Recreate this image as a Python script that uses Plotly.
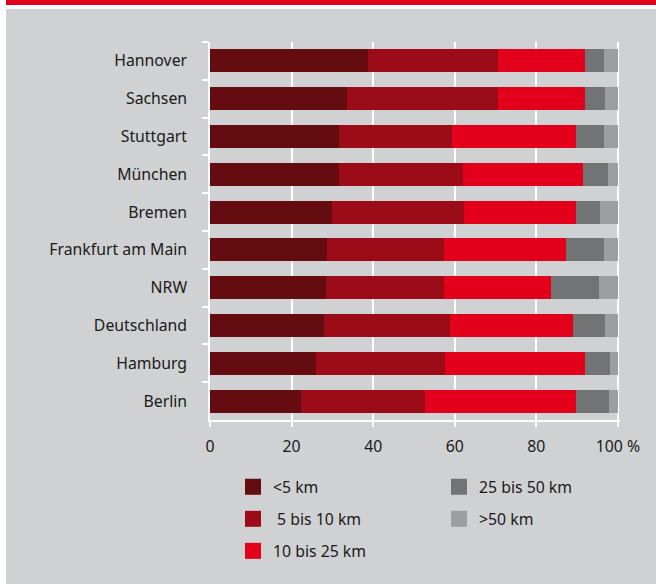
import plotly.graph_objects as go

categories = ["Hannover", "Sachsen", "Stuttgart", "München", "Bremen",
              "Frankfurt am Main", "NRW", "Deutschland", "Hamburg", "Berlin"]
lt5 = [38.8, 33.7, 31.7, 31.5, 30.0, 28.8, 28.5, 28.0, 25.9, 22.2]
b5_10 = [31.7, 36.8, 27.6, 30.4, 32.2, 28.5, 28.8, 30.8, 31.7, 30.5]
b10_25 = [21.5, 21.5, 30.5, 29.6, 27.6, 30.0, 26.4, 30.2, 34.4, 37.1]
b25_50 = [4.6, 4.8, 6.8, 6.1, 5.8, 9.3, 11.7, 7.8, 6.0, 8.0]
gt50 = [3.4, 3.2, 3.4, 2.4, 4.4, 3.4, 4.6, 3.2, 2.0, 2.2]
series_names = ["<5 km", " 5 bis 10 km", "10 bis 25 km", "25 bis 50 km", ">50 km"]
series_values = [lt5, b5_10, b10_25, b25_50, gt50]
colors = ["#640c10", "#9c0c18", "#e2001a", "#727375", "#9d9ea0"]
x_tickvals = [0, 20, 40, 60, 80, 100]
x_ticktext = ["0", "20", "40", "60", "80", "100 %"]

BG = "#d0d1d3"
FONT = "Noto Sans"
FS = 15.8
W, H = 656, 584
L, R, T, B = 210, 36, 42, 164
PW = W - L - R
PH = H - T - B

def px_x(p):
    return (p - L) / PW

def px_y(q):
    return (H - B - q) / PH

fig = go.Figure()
for name, vals, col in zip(series_names, series_values, colors):
    fig.add_trace(go.Bar(
        y=categories, x=vals, name=name, orientation="h",
        marker=dict(color=col, line=dict(width=0)),
        showlegend=False, width=0.61,
    ))

for i, (name, col) in enumerate(zip(series_names, colors)):
    fig.add_trace(go.Scatter(
        x=[None], y=[None], mode="markers", name=name,
        marker=dict(symbol="square", size=16, color=col),
        legendgroup=name,
        legend="legend" if i < 3 else "legend2",
    ))

legend_common = dict(
    xanchor="left", yanchor="top", bgcolor="rgba(0,0,0,0)", tracegroupgap=8.5,
    font=dict(family=FONT, size=FS, color="#1a1a1a"),
    itemclick=False, itemdoubleclick=False,
)

fig.update_layout(
    width=W, height=H,
    margin=dict(l=L, r=R, t=T, b=B),
    paper_bgcolor="white",
    plot_bgcolor=BG,
    barmode="stack",
    bargap=0.39,
    font=dict(family=FONT, size=FS, color="#1a1a1a"),
    legend=dict(x=px_x(233), y=px_y(470), **legend_common),
    legend2=dict(x=px_x(439), y=px_y(470), **legend_common),
    xaxis=dict(
        range=[0, 100.5], tickvals=x_tickvals, ticktext=x_ticktext,
        showgrid=True, gridcolor="white", gridwidth=1.5,
        showline=True, linecolor="white", linewidth=1.5,
        ticks="outside", tickcolor="white", ticklen=5, tickwidth=1.5,
        zeroline=False, tickfont=dict(size=FS), ticklabelstandoff=6,
    ),
    yaxis=dict(
        categoryorder="array", categoryarray=categories, autorange="reversed",
        showline=True, linecolor="white", linewidth=1.5,
        ticks="outside", tickcolor="white", ticklen=6, tickwidth=1.5,
        tickson="boundaries", showgrid=False,
        ticklabelstandoff=18, tickfont=dict(size=FS),
    ),
    shapes=[
        dict(type="rect", xref="paper", yref="paper", layer="below",
             x0=px_x(6), x1=px_x(W + 2), y0=px_y(H + 2), y1=px_y(9),
             fillcolor=BG, line=dict(width=0)),
        dict(type="rect", xref="paper", yref="paper", layer="below",
             x0=px_x(6), x1=px_x(W + 2), y0=px_y(5), y1=px_y(-2),
             fillcolor="#e2001a", line=dict(width=0)),
    ],
)

fig.write_html(
    "out.html",
    config={"displayModeBar": False},
    post_script="document.body.style.margin='0';document.body.style.overflow='hidden';",
)
